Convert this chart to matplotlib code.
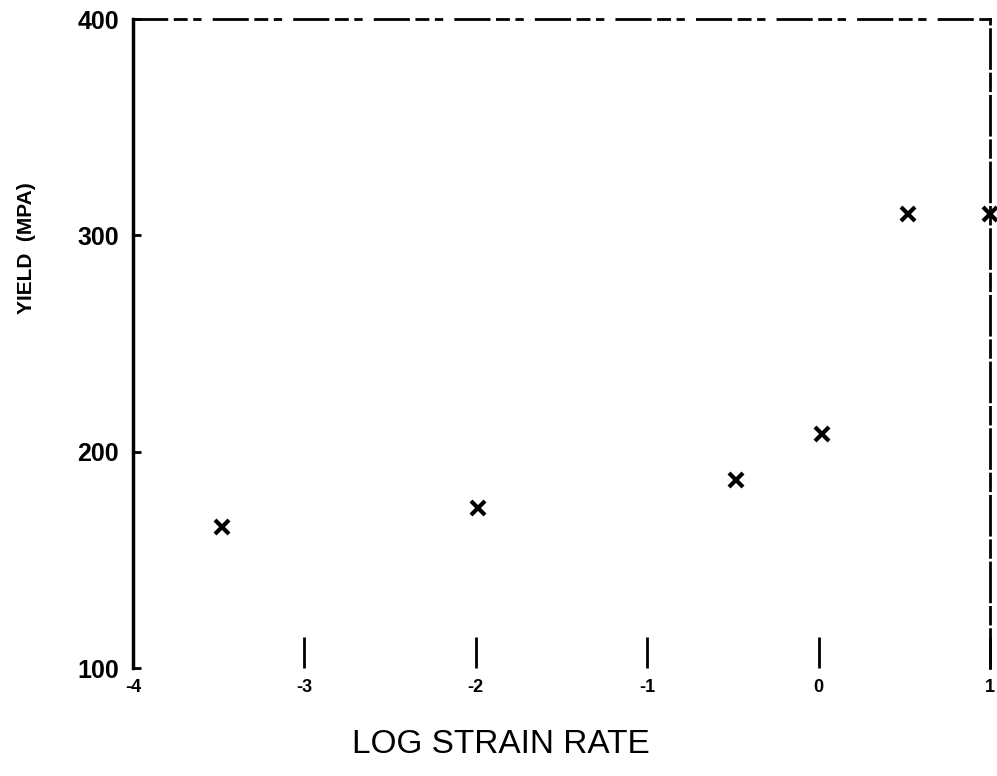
import matplotlib
matplotlib.use("Agg")
import matplotlib.pyplot as plt

# log strain rate vs stress
log_rate = [-3.48, -1.99, -0.48, 0.02, 0.52, 1.0]
stress = [165, 174, 187, 208, 310, 310]

x_ticks = [-4, -3, -2, -1, 0, 1]
x_labels = ["-4", "-3", "-2", "-1", "0", "1"]
y_ticks = [100, 200, 300, 400]
y_labels = ["100", "200", "300", "400"]

font = "Liberation Sans"

fig = plt.figure(figsize=(9.97, 7.76), dpi=100)
ax = fig.add_axes([0.1334, 0.139, 0.8596, 0.8365])

ax.plot(log_rate, stress, linestyle="none", marker="x", markersize=10,
        markeredgewidth=3, color="black", clip_on=False)

ax.set_xlim(-4, 1)
ax.set_ylim(100, 400)
ax.set_xticks(x_ticks)
ax.set_xticklabels(x_labels, fontfamily=font, fontsize=13, fontweight="bold")
ax.set_yticks(y_ticks)
ax.set_yticklabels(y_labels, fontfamily=font, fontsize=18, fontweight="bold")
ax.tick_params(axis="x", direction="in", length=22, width=2, pad=8)
ax.tick_params(axis="y", direction="in", length=6, width=2, pad=10)

ax.spines["left"].set_linewidth(2.5)
ax.spines["bottom"].set_visible(False)
ax.spines["top"].set_linewidth(2)
ax.spines["top"].set_linestyle((0, (12, 3, 4, 3, 2, 5)))
ax.spines["right"].set_linewidth(2)
ax.spines["right"].set_linestyle((0, (14, 2, 6, 2)))

fig.text(0.502, 0.04, "LOG STRAIN RATE", fontfamily=font, fontsize=24,
         ha="center", va="center")
fig.text(0.027, 0.68, "YIELD  (MPA)", fontfamily=font, fontsize=15,
         fontweight="bold", rotation=90, ha="center", va="center")

fig.savefig("out.png", dpi=100)
